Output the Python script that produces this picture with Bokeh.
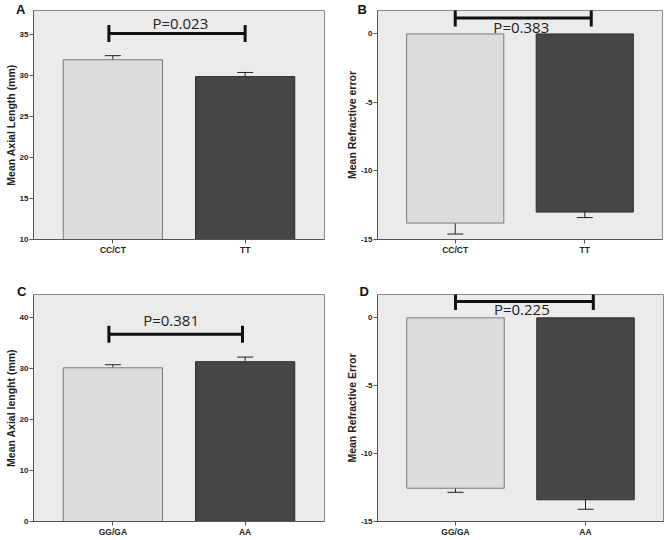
import math
from bokeh.plotting import figure
from bokeh.layouts import column, row
from bokeh.models import Range1d, FixedTicker, Whisker, TeeHead, ColumnDataSource
from bokeh.embed import file_html
from bokeh.resources import INLINE
from bokeh.core.properties import value

# ---------------- data ----------------
# Panel A
cats_A = ["CC/CT", "TT"]
mean_A = [31.9, 29.85]
lo_A = [31.35, 29.35]
hi_A = [32.4, 30.35]
yticks_A = [10, 15, 20, 25, 30, 35]
ylim_A = [10, 37.9]
ylabel_A = "Mean Axial Length (mm)"
ptext_A = "P=0.023"
pxy_A = [1.51, 36.4]
brx_A = [0.97, 2.0]
bry_A = 35.1

# Panel B
cats_B = ["CC/CT", "TT"]
mean_B = [-13.8, -13.0]
lo_B = [-14.6, -13.4]
hi_B = [-13.0, -12.6]
yticks_B = [0, -5, -10, -15]
ylim_B = [-15, 1.71]
ylabel_B = "Mean Refractive error"
ptext_B = "P=0.383"
pxy_B = [1.51, 0.53]
brx_B = [1.0, 2.05]
bry_B = 1.17

# Panel C
cats_C = ["GG/GA", "AA"]
mean_C = [30.2, 31.4]
lo_C = [29.6, 30.5]
hi_C = [30.8, 32.3]
yticks_C = [0, 10, 20, 30, 40]
ylim_C = [0, 44.6]
ylabel_C = "Mean Axial lenght (mm)"
ptext_C = "P=0.381"
pxy_C = [1.44, 39.6]
brx_C = [0.97, 1.98]
bry_C = 36.8

# Panel D
cats_D = ["GG/GA", "AA"]
mean_D = [-12.55, -13.4]
lo_D = [-12.85, -14.1]
hi_D = [-12.2, -12.65]
yticks_D = [0, -5, -10, -15]
ylim_D = [-15, 1.72]
ylabel_D = "Mean Refractive Error"
ptext_D = "P=0.225"
pxy_D = [1.51, 0.68]
brx_D = [1.0, 2.06]
bry_D = 1.21

positions = [1, 2]
bar_fill = ["#dcdcdc", "#464646"]
bar_line = ["#7a7a7a", "#2e2e2e"]
FONT = "Liberation Sans"
XMIN, XMAX = 0.4, 2.6


def panel(cats, mean, lo, hi, yticks, ylim, ylabel, letter, ptext, pxy, brx, bry,
          w, h, mbl, mbr, mbt, mbb, letter_align, letter_dx, letter_standoff):
    p = figure(width=w, height=h, output_backend="svg", toolbar_location=None,
               x_range=Range1d(XMIN, XMAX), y_range=Range1d(ylim[0], ylim[1]),
               min_border_left=mbl, min_border_right=mbr,
               min_border_top=mbt, min_border_bottom=mbb,
               background_fill_color="#ebebeb", border_fill_color="white",
               outline_line_color="#8a8a8a", outline_line_width=1,
               title=letter)
    p.grid.visible = False

    # panel letter as the figure title
    p.title.align = letter_align
    p.title.offset = letter_dx
    p.title.standoff = letter_standoff
    p.title.text_font = FONT
    p.title.text_font_size = "13px"
    p.title.text_font_style = "bold"
    p.title.text_color = "#111111"

    baseline = 0 if ylim[0] < 0 else ylim[0]
    src = ColumnDataSource(dict(x=positions, top=mean, bottom=[baseline] * len(mean),
                                lo=lo, hi=hi, fill=bar_fill, line=bar_line))
    p.vbar(x="x", top="top", bottom="bottom", width=0.75, fill_color="fill",
           line_color="line", line_width=1, source=src)
    wh = Whisker(base="x", upper="hi", lower="lo", source=src, line_color="#222222",
                 line_width=1,
                 upper_head=TeeHead(size=16, line_color="#222222", line_width=1),
                 lower_head=TeeHead(size=16, line_color="#222222", line_width=1))
    p.add_layout(wh)

    # significance bracket
    p.line(x=brx, y=[bry, bry], line_width=3, line_color="#111111")
    p.scatter(x=brx, y=[bry, bry], marker="dash", size=17, angle=math.pi / 2,
              line_width=3, line_color="#111111")
    p.text(x=[pxy[0]], y=[pxy[1]], text=[ptext], text_font=value("Open Sans"),
           text_font_size="15px", text_align="center", text_baseline="middle",
           text_color="#222222")

    # axes
    p.xaxis.ticker = FixedTicker(ticks=positions)
    p.xaxis.major_label_overrides = {k: c for k, c in zip(positions, cats)}
    p.xaxis.major_label_text_font_size = "8.5px"
    p.xaxis.major_label_standoff = 1
    p.yaxis.ticker = FixedTicker(ticks=yticks)
    p.yaxis.major_label_overrides = {t: str(t) for t in yticks}
    p.yaxis.major_label_standoff = 1
    p.yaxis.major_label_text_font_size = "8px"
    for ax in (p.xaxis[0], p.yaxis[0]):
        ax.axis_line_color = "#555555"
        ax.major_tick_line_color = "#555555"
        ax.major_tick_out = 4
        ax.major_tick_in = 0
        ax.minor_tick_out = 0
        ax.minor_tick_in = 0
        ax.major_label_text_font = FONT
        ax.major_label_text_font_style = "bold"
        ax.major_label_text_color = "#222222"
    p.yaxis.axis_label = ylabel
    p.yaxis.axis_label_text_font = FONT
    p.yaxis.axis_label_text_font_size = "10.5px"
    p.yaxis.axis_label_text_font_style = "bold"
    p.yaxis.axis_label_text_color = "#222222"
    p.yaxis.axis_label_standoff = 0
    return p


pA = panel(cats_A, mean_A, lo_A, hi_A, yticks_A, ylim_A, ylabel_A, "A", ptext_A, pxy_A,
           brx_A, bry_A, 342, 268, 33, 18, 10, 29, "right", 299, -13)
pB = panel(cats_B, mean_B, lo_B, hi_B, yticks_B, ylim_B, ylabel_B, "B", ptext_B, pxy_B,
           brx_B, bry_B, 324, 268, 35, 4, 10, 29, "left", -20, -13)
pC = panel(cats_C, mean_C, lo_C, hi_C, yticks_C, ylim_C, ylabel_C, "C", ptext_C, pxy_C,
           brx_C, bry_C, 342, 271, 33, 18, 25, 16, "right", 298, -9)
pD = panel(cats_D, mean_D, lo_D, hi_D, yticks_D, ylim_D, ylabel_D, "D", ptext_D, pxy_D,
           brx_D, bry_D, 324, 271, 35, 3, 26, 16, "left", -18, -9)

layout = column(row(pA, pB), row(pC, pD))
open("out.html", "w").write(file_html(layout, INLINE))
